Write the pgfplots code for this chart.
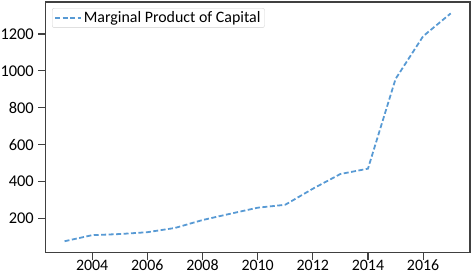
\documentclass[border=0pt]{standalone}
\usepackage{pgfplots}
\pgfplotsset{compat=1.18}
\usepackage{fontspec}
\setmainfont{Carlito}
\definecolor{lineblue}{RGB}{88,154,212}
\begin{document}
\fontsize{16}{19}\selectfont
\begin{tikzpicture}
\begin{axis}[
  scale only axis,
  width=427pt, height=252pt,
  at={(0,0)}, anchor=south west,
  xmin=2002.3, xmax=2017.7,
  ymin=13, ymax=1374,
  xtick={2004,2006,2008,2010,2012,2014,2016},
  ytick={200,400,600,800,1000,1200},
  /pgf/number format/1000 sep={},
  /pgf/number format/assume math mode=true,
  tick label style={font=\fontsize{16.5}{19}\selectfont, black},
  tick align=outside,
  major tick length=7pt,
  xtick pos=bottom, ytick pos=left,
  axis line style={draw=black!75, line width=1.1pt},
  every tick/.style={black!75, line width=1.1pt},
  xticklabel style={font=\fontsize{16}{19}\selectfont, inner ysep=0pt, text depth=0pt, yshift=-0.2pt},
  yticklabel style={xshift=1pt},
  legend style={at={(rel axis cs:0.016,0.976)}, anchor=north west,
    draw=black!18, rounded corners=2pt, fill=white,
    font=\fontsize{16}{19}\selectfont, inner xsep=2pt, inner ysep=1pt},
  legend cell align=left,
  legend image code/.code={\draw[#1] (0pt,0pt) -- (26pt,0pt);},
]
\addplot[lineblue, line width=1.8pt, dash pattern=on 5pt off 2.5pt] coordinates {
(2003,75) (2004,108) (2005,114) (2006,124) (2007,147) (2008,190)
(2009,224) (2010,257) (2011,273) (2012,360) (2013,440) (2014,469)
(2015,956) (2016,1188) (2017,1312)
};
\addlegendentry{Marginal Product of Capital}
\end{axis}
\pgfresetboundingbox
\path[use as bounding box] (-45.5pt,-21pt) rectangle (429pt,254pt);
\end{tikzpicture}
\end{document}
